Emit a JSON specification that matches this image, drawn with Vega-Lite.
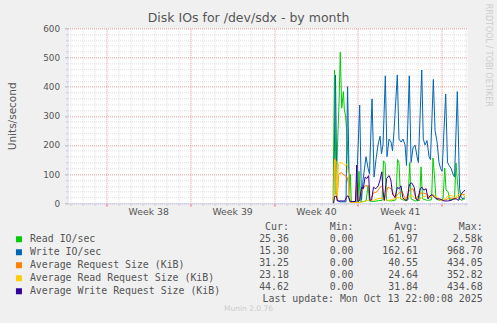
{
  "$schema": "https://vega.github.io/schema/vega-lite/v6.json",
  "width": 400,
  "height": 175,
  "autosize": {"type": "none"},
  "padding": {"left": 67.5, "top": 28.3, "right": 29.5, "bottom": 119.7},
  "background": "#F0F0F0",
  "view": {"fill": "white", "stroke": null},
  "config": {"font": "DejaVu Sans"},
  "title": {"text": "Disk IOs for /dev/sdx - by month", "font": "DejaVu Sans", "fontSize": 12.5, "fontWeight": "normal", "color": "#555555", "anchor": "middle", "frame": "group", "dx": -19, "dy": 25, "offset": 4},
  "datasets": {
    "read": [{"d":18.93,"v":0},{"d":19.05,"v":457},{"d":19.18,"v":30},{"d":19.30,"v":200},{"d":19.43,"v":350},{"d":19.53,"v":518},{"d":19.65,"v":326},{"d":19.79,"v":383},{"d":19.87,"v":320},{"d":19.97,"v":300},{"d":20.07,"v":250},{"d":20.18,"v":150},{"d":20.29,"v":10},{"d":20.37,"v":100},{"d":20.45,"v":5},{"d":20.7,"v":4},{"d":21.01,"v":5},{"d":21.09,"v":110},{"d":21.20,"v":5},{"d":21.45,"v":6},{"d":21.68,"v":8},{"d":21.85,"v":60},{"d":21.97,"v":8},{"d":22.3,"v":6},{"d":22.7,"v":9},{"d":23.02,"v":10},{"d":23.14,"v":145},{"d":23.27,"v":140},{"d":23.39,"v":10},{"d":23.8,"v":8},{"d":24.18,"v":12},{"d":24.31,"v":150},{"d":24.43,"v":140},{"d":24.56,"v":15},{"d":24.9,"v":10},{"d":25.19,"v":12},{"d":25.33,"v":140},{"d":25.44,"v":15},{"d":25.8,"v":8},{"d":26.15,"v":10},{"d":26.27,"v":125},{"d":26.40,"v":15},{"d":26.8,"v":10},{"d":27.15,"v":12},{"d":27.27,"v":155},{"d":27.40,"v":90},{"d":27.52,"v":15},{"d":27.8,"v":10},{"d":28.11,"v":15},{"d":28.25,"v":121},{"d":28.36,"v":45},{"d":28.53,"v":40},{"d":28.65,"v":12},{"d":29.07,"v":15},{"d":29.19,"v":138},{"d":29.32,"v":70},{"d":29.44,"v":15},{"d":29.70,"v":10},{"d":29.94,"v":25}],
    "write": [{"d":18.97,"v":0},{"d":19.13,"v":440},{"d":19.26,"v":10},{"d":19.51,"v":5},{"d":20.01,"v":5},{"d":20.14,"v":400},{"d":20.30,"v":5},{"d":20.84,"v":5},{"d":21.15,"v":337},{"d":21.30,"v":10},{"d":21.43,"v":80},{"d":21.68,"v":160},{"d":21.85,"v":120},{"d":21.97,"v":100},{"d":22.18,"v":358},{"d":22.35,"v":90},{"d":22.51,"v":150},{"d":22.68,"v":200},{"d":22.85,"v":230},{"d":22.97,"v":170},{"d":23.10,"v":200},{"d":23.29,"v":437},{"d":23.43,"v":160},{"d":23.60,"v":220},{"d":23.77,"v":210},{"d":23.89,"v":180},{"d":24.02,"v":250},{"d":24.29,"v":440},{"d":24.43,"v":220},{"d":24.60,"v":210},{"d":24.77,"v":220},{"d":24.94,"v":200},{"d":25.06,"v":130},{"d":25.29,"v":437},{"d":25.44,"v":140},{"d":25.60,"v":190},{"d":25.77,"v":200},{"d":25.94,"v":160},{"d":26.05,"v":140},{"d":26.33,"v":457},{"d":26.46,"v":220},{"d":26.61,"v":200},{"d":26.77,"v":215},{"d":26.94,"v":160},{"d":27.06,"v":150},{"d":27.30,"v":425},{"d":27.44,"v":250},{"d":27.61,"v":210},{"d":27.77,"v":140},{"d":27.90,"v":120},{"d":28.03,"v":110},{"d":28.33,"v":375},{"d":28.48,"v":140},{"d":28.61,"v":130},{"d":28.78,"v":120},{"d":28.94,"v":100},{"d":29.07,"v":90},{"d":29.30,"v":383},{"d":29.49,"v":50},{"d":29.61,"v":20},{"d":29.78,"v":15},{"d":29.94,"v":15}],
    "avg": [{"d":18.97,"v":0},{"d":19.05,"v":150},{"d":19.13,"v":152},{"d":19.26,"v":10},{"d":19.4,"v":100},{"d":19.6,"v":105},{"d":19.9,"v":95},{"d":20.1,"v":90},{"d":20.25,"v":60},{"d":20.35,"v":5},{"d":20.8,"v":5},{"d":20.9,"v":70},{"d":21.0,"v":5},{"d":21.3,"v":40},{"d":21.6,"v":60},{"d":21.9,"v":60},{"d":22.0,"v":10},{"d":22.3,"v":35},{"d":22.6,"v":40},{"d":22.85,"v":55},{"d":23.05,"v":60},{"d":23.2,"v":10},{"d":23.5,"v":55},{"d":23.8,"v":50},{"d":24.1,"v":18},{"d":24.4,"v":35},{"d":24.7,"v":40},{"d":25.0,"v":12},{"d":25.3,"v":45},{"d":25.6,"v":50},{"d":25.85,"v":15},{"d":26.2,"v":35},{"d":26.5,"v":35},{"d":26.8,"v":30},{"d":27.0,"v":20},{"d":27.3,"v":28},{"d":27.6,"v":18},{"d":27.9,"v":12},{"d":28.2,"v":10},{"d":28.5,"v":15},{"d":28.8,"v":18},{"d":29.1,"v":16},{"d":29.4,"v":20},{"d":29.7,"v":30},{"d":29.94,"v":31}],
    "avgr": [{"d":18.97,"v":0},{"d":19.05,"v":148},{"d":19.17,"v":145},{"d":19.26,"v":10},{"d":19.38,"v":135},{"d":19.51,"v":140},{"d":19.68,"v":138},{"d":19.93,"v":130},{"d":20.09,"v":135},{"d":20.22,"v":100},{"d":20.30,"v":5},{"d":20.45,"v":3},{"d":21.2,"v":3},{"d":21.7,"v":8},{"d":22.0,"v":12},{"d":22.3,"v":10},{"d":22.6,"v":15},{"d":23.0,"v":18},{"d":23.3,"v":12},{"d":23.6,"v":10},{"d":24.0,"v":15},{"d":24.3,"v":20},{"d":24.6,"v":18},{"d":24.9,"v":12},{"d":25.2,"v":22},{"d":25.5,"v":28},{"d":25.8,"v":15},{"d":26.1,"v":12},{"d":26.4,"v":22},{"d":26.7,"v":25},{"d":27.0,"v":18},{"d":27.3,"v":30},{"d":27.6,"v":20},{"d":27.9,"v":10},{"d":28.2,"v":12},{"d":28.5,"v":25},{"d":28.8,"v":28},{"d":29.1,"v":18},{"d":29.4,"v":30},{"d":29.7,"v":32},{"d":29.94,"v":23}],
    "avgw": [{"d":18.97,"v":0},{"d":19.05,"v":23},{"d":19.2,"v":25},{"d":19.3,"v":8},{"d":19.9,"v":8},{"d":20.1,"v":25},{"d":20.2,"v":25},{"d":20.35,"v":6},{"d":20.8,"v":6},{"d":20.9,"v":131},{"d":21.0,"v":6},{"d":21.15,"v":10},{"d":21.3,"v":55},{"d":21.45,"v":50},{"d":21.6,"v":90},{"d":21.75,"v":85},{"d":21.9,"v":95},{"d":22.0,"v":10},{"d":22.15,"v":12},{"d":22.3,"v":55},{"d":22.5,"v":50},{"d":22.7,"v":60},{"d":22.85,"v":80},{"d":23.0,"v":108},{"d":23.1,"v":40},{"d":23.2,"v":10},{"d":23.4,"v":85},{"d":23.6,"v":95},{"d":23.75,"v":80},{"d":23.9,"v":30},{"d":24.1,"v":20},{"d":24.3,"v":55},{"d":24.45,"v":50},{"d":24.6,"v":60},{"d":24.75,"v":20},{"d":24.9,"v":12},{"d":25.1,"v":10},{"d":25.3,"v":65},{"d":25.5,"v":70},{"d":25.7,"v":55},{"d":25.85,"v":15},{"d":26.0,"v":10},{"d":26.2,"v":50},{"d":26.35,"v":55},{"d":26.5,"v":45},{"d":26.7,"v":50},{"d":26.85,"v":15},{"d":27.0,"v":25},{"d":27.2,"v":30},{"d":27.4,"v":20},{"d":27.6,"v":15},{"d":27.8,"v":15},{"d":28.0,"v":12},{"d":28.2,"v":8},{"d":28.5,"v":8},{"d":28.8,"v":10},{"d":29.0,"v":15},{"d":29.2,"v":15},{"d":29.4,"v":10},{"d":29.6,"v":30},{"d":29.8,"v":40},{"d":29.94,"v":45}],
    "cells": [
      {"row":"header","col":"Cur","txt":"Cur:\u00a0\u00a0"},
      {"row":"header","col":"Min","txt":"Min:\u00a0\u00a0"},
      {"row":"header","col":"Avg","txt":"Avg:\u00a0\u00a0"},
      {"row":"header","col":"Max","txt":"Max:\u00a0\u00a0"},
      {"row":"Read IO/sec","col":"Cur","txt":"25.36\u00a0"},
      {"row":"Read IO/sec","col":"Min","txt":"0.00\u00a0"},
      {"row":"Read IO/sec","col":"Avg","txt":"61.97\u00a0"},
      {"row":"Read IO/sec","col":"Max","txt":"2.58k"},
      {"row":"Write IO/sec","col":"Cur","txt":"15.30\u00a0"},
      {"row":"Write IO/sec","col":"Min","txt":"0.00\u00a0"},
      {"row":"Write IO/sec","col":"Avg","txt":"162.61\u00a0"},
      {"row":"Write IO/sec","col":"Max","txt":"968.70\u00a0"},
      {"row":"Average Request Size (KiB)","col":"Cur","txt":"31.25\u00a0"},
      {"row":"Average Request Size (KiB)","col":"Min","txt":"0.00\u00a0"},
      {"row":"Average Request Size (KiB)","col":"Avg","txt":"40.55\u00a0"},
      {"row":"Average Request Size (KiB)","col":"Max","txt":"434.05\u00a0"},
      {"row":"Average Read Request Size (KiB)","col":"Cur","txt":"23.18\u00a0"},
      {"row":"Average Read Request Size (KiB)","col":"Min","txt":"0.00\u00a0"},
      {"row":"Average Read Request Size (KiB)","col":"Avg","txt":"24.64\u00a0"},
      {"row":"Average Read Request Size (KiB)","col":"Max","txt":"352.82\u00a0"},
      {"row":"Average Write Request Size (KiB)","col":"Cur","txt":"44.62\u00a0"},
      {"row":"Average Write Request Size (KiB)","col":"Min","txt":"0.00\u00a0"},
      {"row":"Average Write Request Size (KiB)","col":"Avg","txt":"31.84\u00a0"},
      {"row":"Average Write Request Size (KiB)","col":"Max","txt":"434.68\u00a0"},
      {"row":"update","col":"Max","txt":"Last update: Mon Oct 13 22:00:08 2025"}
    ]
  },
  "resolve": {"scale": {"x": "independent", "y": "independent"}},
  "layer": [
    {
      "data": {"name": "read"},
      "mark": {"type": "line", "strokeWidth": 1, "clip": true},
      "encoding": {
        "x": {"field": "d", "type": "quantitative", "scale": {"domain": [-3.24, 30.15], "nice": false, "zero": false},
          "axis": {"orient": "bottom", "values": [-3,-2,-1,0,1,2,3,4,5,6,7,8,9,10,11,12,13,14,15,16,17,18,19,20,21,22,23,24,25,26,27,28,29,30], "grid": true, "gridColor": "#999999", "gridOpacity": 0.3, "gridDash": [1,1], "labels": false, "ticks": true, "tickColor": "#C8C8C8", "tickSize": 2, "domain": false, "title": null}},
        "y": {"field": "v", "type": "quantitative", "scale": {"domain": [0, 600], "nice": false},
          "axis": {"orient": "left", "values": [0,20,40,60,80,100,120,140,160,180,200,220,240,260,280,300,320,340,360,380,400,420,440,460,480,500,520,540,560,580,600], "grid": true, "gridColor": "#999999", "gridOpacity": 0.3, "gridDash": [1,1], "labels": false, "ticks": true, "tickColor": "#C8C8C8", "tickSize": 2, "domain": false, "title": null}},
        "color": {"datum": "Read IO/sec", "type": "nominal",
          "scale": {"domain": ["Read IO/sec", "Write IO/sec", "Average Request Size (KiB)", "Average Read Request Size (KiB)", "Average Write Request Size (KiB)"], "range": ["#00CC00", "#0066B3", "#FF8000", "#FFCC00", "#330099"]},
          "legend": {"orient": "none", "legendX": -53.5, "legendY": 206, "direction": "vertical", "title": null, "symbolType": "square", "symbolSize": 36, "symbolStrokeWidth": 0, "labelFont": "DejaVu Sans Mono", "labelFontSize": 9.9, "labelColor": "#555555", "labelOffset": 6, "rowPadding": 2, "padding": 0, "offset": 0, "labelLimit": 400,
            "encode": {"symbols": {"update": {"fill": {"scale": "color", "field": "value"}, "fillOpacity": {"value": 1}}}}}}
      }
    },
    {
      "data": {"name": "write"},
      "mark": {"type": "line", "strokeWidth": 1, "clip": true},
      "encoding": {
        "x": {"field": "d", "type": "quantitative", "scale": {"domain": [-3.24, 30.15], "nice": false, "zero": false},
          "axis": {"orient": "bottom", "values": [0, 7, 14, 21, 28], "grid": true, "gridColor": "#FF0000", "gridOpacity": 0.28, "gridDash": [1,1], "labels": false, "ticks": true, "tickColor": "#FF7070", "tickSize": 3, "domain": true, "domainColor": "#CFD6F8", "title": null}},
        "y": {"field": "v", "type": "quantitative", "scale": {"domain": [0, 600], "nice": false},
          "axis": {"orient": "left", "values": [0, 100, 200, 300, 400, 500, 600], "grid": true, "gridColor": "#FF0000", "gridOpacity": 0.28, "gridDash": [1,1], "labels": true, "labelFont": "DejaVu Sans", "labelFontSize": 8.8, "labelColor": "#555555", "labelPadding": 5, "ticks": true, "tickColor": "#BBBBBB", "tickSize": 3, "domain": true, "domainColor": "#CFD6F8", "title": "Units/second", "titleFont": "DejaVu Sans", "titleFontSize": 10.5, "titleFontWeight": "normal", "titleColor": "#555555", "titlePadding": 25}},
        "color": {"datum": "Write IO/sec", "type": "nominal"}
      }
    },
    {
      "data": {"name": "avg"},
      "mark": {"type": "line", "strokeWidth": 1, "clip": true},
      "encoding": {
        "x": {"field": "d", "type": "quantitative", "scale": {"domain": [-3.24, 30.15], "nice": false, "zero": false},
          "axis": {"orient": "bottom", "values": [3.5, 10.5, 17.5, 24.5], "labelExpr": "'Week ' + (38 + floor(datum.value / 7))", "labelFlush": false, "labelOverlap": false, "grid": false, "ticks": false, "tickSize": 0, "domain": false, "labelFont": "DejaVu Sans", "labelFontSize": 9.3, "labelColor": "#555555", "labelPadding": 4, "title": "Munin 2.0.76", "titleFont": "DejaVu Sans", "titleFontSize": 7.5, "titleFontWeight": "normal", "titleColor": "#CCCCCC", "titleX": 180.5, "titlePadding": 88}},
        "y": {"field": "v", "type": "quantitative", "scale": {"domain": [0, 600], "nice": false},
          "axis": {"orient": "right", "labels": false, "ticks": false, "grid": false, "domain": false, "title": "RRDTOOL / TOBI OETIKER", "titleAngle": 90, "titleFont": "DejaVu Sans", "titleFontSize": 8, "titleFontWeight": "normal", "titleColor": "#CCCCCC", "titleAlign": "left", "titleBaseline": "middle", "titleY": -25, "titlePadding": 20}},
        "color": {"datum": "Average Request Size (KiB)", "type": "nominal"}
      }
    },
    {
      "data": {"name": "avgr"},
      "mark": {"type": "line", "strokeWidth": 1, "clip": true},
      "encoding": {
        "x": {"field": "d", "type": "quantitative", "scale": {"domain": [-3.24, 30.15], "nice": false, "zero": false}, "axis": null},
        "y": {"field": "v", "type": "quantitative", "scale": {"domain": [0, 600], "nice": false}, "axis": null},
        "color": {"datum": "Average Read Request Size (KiB)", "type": "nominal"}
      }
    },
    {
      "data": {"name": "avgw"},
      "mark": {"type": "line", "strokeWidth": 1, "clip": true},
      "encoding": {
        "x": {"field": "d", "type": "quantitative", "scale": {"domain": [-3.24, 30.15], "nice": false, "zero": false}, "axis": null},
        "y": {"field": "v", "type": "quantitative", "scale": {"domain": [0, 600], "nice": false}, "axis": null},
        "color": {"datum": "Average Write Request Size (KiB)", "type": "nominal"}
      }
    },
    {
      "data": {"name": "cells"},
      "mark": {"type": "text", "align": "right", "baseline": "middle", "font": "DejaVu Sans Mono", "fontSize": 9.9, "color": "#555555"},
      "encoding": {
        "x": {"field": "col", "type": "nominal", "scale": {"type": "point", "domain": ["Cur", "Min", "Avg", "Max"], "range": [221.4, 415.1], "padding": 0}, "axis": null},
        "y": {"field": "row", "type": "nominal", "scale": {"type": "point", "domain": ["header", "Read IO/sec", "Write IO/sec", "Average Request Size (KiB)", "Average Read Request Size (KiB)", "Average Write Request Size (KiB)", "update"], "range": [199, 271], "padding": 0}, "axis": null},
        "text": {"field": "txt"}
      }
    }
  ]
}
